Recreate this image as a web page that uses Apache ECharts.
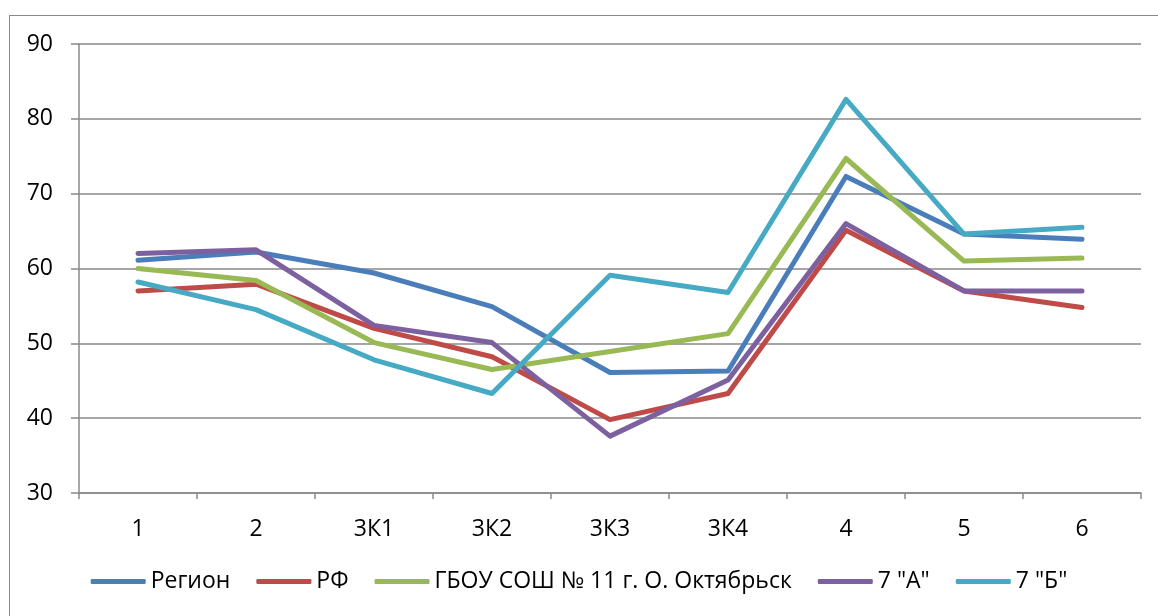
<!DOCTYPE html>
<html>
<head>
<meta charset="utf-8">
<script src="https://cdn.jsdelivr.net/npm/echarts@6/dist/echarts.min.js"></script>
<style>
html,body{margin:0;padding:0;background:#fff;}
#frame{position:absolute;left:9px;top:15px;width:1160px;height:620px;border:1.5px solid #898989;box-sizing:border-box;}
#c{position:absolute;left:0;top:0;width:1158px;height:616px;}
</style>
</head>
<body>
<div id="frame"></div>
<div id="c"></div>
<script>
var categories = ['1', '2', '3К1', '3К2', '3К3', '3К4', '4', '5', '6'];
var seriesNames = ['Регион', 'РФ', 'ГБОУ СОШ № 11 г. О. Октябрьск', '7 "А"', '7 "Б"'];
var region = [61.1, 62.2, 59.4, 54.9, 46.1, 46.3, 72.3, 64.6, 63.9];
var rf = [57.0, 57.9, 52.0, 48.2, 39.8, 43.3, 65.1, 57.0, 54.8];
var school = [60.0, 58.4, 50.1, 46.5, 48.9, 51.3, 74.7, 61.0, 61.4];
var class7a = [62.0, 62.5, 52.4, 50.1, 37.6, 45.1, 66.0, 57.0, 57.0];
var class7b = [58.2, 54.5, 47.8, 43.3, 59.1, 56.8, 82.6, 64.6, 65.5];
var yTicks = [30, 40, 50, 60, 70, 80, 90];

var colors = ['#4A7EBB', '#BE4B48', '#98B954', '#7D60A0', '#46AAC5'];
var dataSets = [region, rf, school, class7a, class7b];

var chart = echarts.init(document.getElementById('c'));
var font = '"Open Sans", "Noto Sans", sans-serif';
chart.setOption({
  animation: false,
  color: colors,
  grid: {left: 79, right: 17, top: 44, bottom: 123, containLabel: false},
  legend: {
    bottom: 18,
    left: 'center',
    itemWidth: 55,
    itemHeight: 5,
    itemGap: 26,
    icon: 'roundRect',
    textStyle: {fontFamily: font, fontSize: 23, color: '#000'},
    data: seriesNames
  },
  xAxis: {
    type: 'category',
    data: categories,
    boundaryGap: true,
    axisLine: {lineStyle: {color: '#898989', width: 1.5}},
    axisTick: {show: true, length: 6, lineStyle: {color: '#898989', width: 1.5}},
    axisLabel: {margin: 25, color: '#000', fontFamily: font, fontSize: 23}
  },
  yAxis: {
    type: 'value',
    min: yTicks[0],
    max: yTicks[yTicks.length - 1],
    interval: 10,
    axisLine: {show: true, lineStyle: {color: '#898989', width: 1.5}},
    axisTick: {show: true, length: 8, lineStyle: {color: '#898989', width: 1.5}},
    axisLabel: {margin: 26, color: '#000', fontFamily: font, fontSize: 23},
    splitLine: {show: true, lineStyle: {color: '#898989', width: 1.5}}
  },
  series: dataSets.map(function (d, i) {
    return {
      name: seriesNames[i],
      type: 'line',
      data: d,
      symbol: 'none',
      showSymbol: false,
      lineStyle: {width: 5, color: colors[i], cap: 'round', join: 'round'},
      itemStyle: {color: colors[i]}
    };
  })
});
</script>
</body>
</html>
